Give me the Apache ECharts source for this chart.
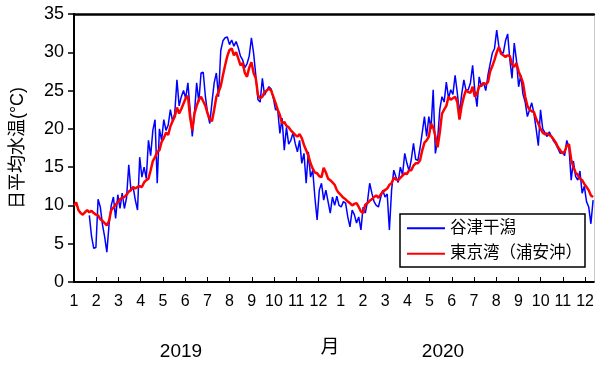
<!DOCTYPE html>
<html>
<head>
<meta charset="utf-8">
<script src="https://cdn.jsdelivr.net/npm/echarts@6/dist/echarts.min.js"></script>
<style>
  html, body { margin: 0; padding: 0; background: #fff; }
  #chart { width: 597px; height: 365px; }
</style>
</head>
<body>
<div id="chart"></div>
<script>
// Daily mean water temperature, sampled every 3 days from 1 Jan 2019.
const STEP_DAYS = 3;
const DAYS_PER_MONTH = 365.25 / 12;

// Month tick labels, Jan 2019 .. Dec 2020
const monthTicks = ['1','2','3','4','5','6','7','8','9','10','11','12',
                    '1','2','3','4','5','6','7','8','9','10','11','12'];
const yearLabels = ['2019', '2020'];
const seriesNames = ['谷津干潟', '東京湾（浦安沖）'];

// 谷津干潟 (°C)
const yatsuHigata = [
  null, null, null, null, null, null, null, 8.7, 6.0, 4.4,
  4.5, 10.8, 9.8, 7.5, 5.9, 3.9, 7.5, 10.0, 11.1, 8.3,
  11.4, 9.6, 11.6, 9.6, 11.0, 15.3, 12.0, 12.4, 10.7, 9.4,
  16.3, 13.7, 15.0, 13.5, 18.5, 16.5, 19.8, 21.2, 12.9, 20.0,
  18.5, 21.2, 19.8, 20.5, 22.5, 21.0, 22.0, 26.4, 23.0, 24.2,
  25.0, 24.0, 26.0, 22.5, 19.0, 22.1, 26.0, 23.5, 27.3, 27.4,
  24.2, 22.0, 20.7, 23.5, 26.0, 27.3, 24.2, 30.2, 31.5, 31.9,
  32.0, 31.0, 31.6, 30.8, 31.4, 30.6, 29.5, 29.0, 28.0, 28.5,
  29.5, 31.9, 29.9, 27.0, 23.8, 23.5, 26.6, 24.4, 25.0, 25.5,
  25.2, 24.0, 22.5, 22.5, 19.4, 21.4, 17.2, 20.2, 18.0, 18.5,
  19.5, 18.1, 17.0, 18.5, 15.5, 16.8, 12.9, 17.0, 13.7, 14.6,
  11.0, 8.1, 12.0, 12.9, 10.7, 12.0, 10.5, 9.0, 11.1, 10.0,
  11.2, 10.0, 9.8, 10.5, 10.3, 8.5, 7.2, 9.4, 8.8, 7.7,
  8.5, 6.8, 9.8, 9.0, 10.5, 12.9, 11.6, 10.5, 10.0, 9.8,
  11.0, 12.0, 11.1, 11.5, 6.8, 12.0, 14.6, 13.7, 13.0, 15.0,
  14.0, 16.8, 15.5, 14.5, 16.0, 18.1, 16.0, 15.9, 17.5, 19.5,
  21.6, 19.0, 21.6, 20.0, 25.1, 16.8, 18.5, 22.5, 24.2, 23.5,
  26.1, 24.0, 25.1, 24.5, 27.0, 24.7, 22.0, 24.5, 26.4, 25.0,
  25.1, 26.0, 28.3, 25.0, 22.9, 26.8, 25.5, 26.0, 25.0, 27.0,
  28.5, 29.9, 30.5, 32.9, 30.7, 30.0, 29.9, 31.5, 32.4, 29.0,
  26.6, 31.2, 29.0, 25.5, 27.0, 24.5, 23.5, 21.6, 22.5, 23.4,
  22.0, 20.0, 17.8, 22.5, 20.0, 19.5, 19.0, 19.6, 19.0, 18.4,
  18.0, 17.4, 16.8, 17.0, 16.5, 18.5, 17.5, 13.3, 15.8, 13.8,
  13.3, 14.5, 11.6, 12.5, 10.5, 9.8, 7.6, 10.7
];

// 東京湾（浦安沖） (°C)
const tokyoBay = [
  10.0, 10.4, 9.4, 9.0, 8.8, 9.1, 9.4, 9.1, 9.3, 9.0,
  8.8, 8.7, 8.2, 8.0, 7.7, 7.4, 8.0, 9.4, 9.7, 10.1,
  10.4, 10.8, 11.0, 11.1, 11.4, 11.8, 12.0, 12.4, 12.2, 12.4,
  12.5, 12.4, 13.0, 13.3, 13.5, 14.6, 15.8, 16.3, 17.0, 17.2,
  18.3, 18.8, 19.5, 19.2, 20.3, 21.0, 21.6, 22.8, 22.0, 22.6,
  23.3, 24.0, 24.3, 21.5, 19.8, 22.0, 23.0, 23.8, 24.2, 23.6,
  23.0, 22.0, 21.3, 21.0, 22.5, 24.2, 24.8, 25.6, 27.0, 28.3,
  29.5, 30.3, 30.5, 29.6, 30.0, 29.2, 28.3, 28.6, 27.3, 26.8,
  28.0, 28.7, 27.3, 26.6, 24.4, 24.0, 24.2, 24.8, 25.0, 25.3,
  25.0, 24.2, 23.4, 22.5, 21.8, 20.7, 20.9, 20.4, 20.2, 19.8,
  19.5, 19.2, 19.0, 19.3, 18.8, 17.9, 17.2, 16.5, 15.5, 14.8,
  14.3, 14.2, 13.8, 13.7, 14.9, 14.3, 13.5, 13.3, 13.0, 12.7,
  12.0, 11.6, 11.3, 11.0, 10.8, 10.5, 10.3, 10.0, 10.2, 10.3,
  9.8, 9.2, 9.0, 10.1, 10.3, 10.6, 10.8, 11.1, 11.3, 11.0,
  11.4, 11.8, 12.0, 12.2, 12.7, 12.9, 13.6, 13.4, 13.3, 13.6,
  13.9, 14.2, 14.1, 14.6, 14.6, 15.2, 15.5, 15.5, 15.9, 17.2,
  18.2, 18.5, 19.0, 20.7, 20.2, 19.0, 17.6, 19.5, 22.0, 22.5,
  23.0, 24.2, 23.8, 24.0, 24.2, 23.5, 21.2, 23.0, 24.2, 25.1,
  24.8, 24.7, 25.5, 24.2, 24.6, 25.5, 25.7, 26.0, 25.8, 26.1,
  27.5, 28.2, 29.0, 30.0, 30.7, 29.8, 29.6, 29.4, 29.6, 29.5,
  28.4, 28.1, 28.6, 27.5, 26.8, 26.0, 24.2, 23.0, 22.5, 22.3,
  22.2, 21.3, 20.7, 20.0, 19.5, 19.3, 19.4, 19.2, 19.0, 18.6,
  18.2, 17.6, 17.2, 16.8, 17.0, 17.8, 18.0, 16.0, 15.0, 14.3,
  14.0, 13.5, 13.3, 12.8, 12.4, 12.0, 11.3, 11.1
];

const FONT = "'Liberation Sans', 'Noto Sans CJK JP', sans-serif";
const lastDay = (tokyoBay.length - 1) * STEP_DAYS + 1;
// Plain horizontal bar used as the legend key
const LINE_ICON = 'path://M0,0 L40,0 L40,2 L0,2 Z';

function toPairs(values) {
  return values.map((v, i) => [i * STEP_DAYS, v]);
}

const monthPositions = monthTicks.map((_, k) => k * DAYS_PER_MONTH);

const chart = echarts.init(document.getElementById('chart'), null, { renderer: 'canvas' });

chart.setOption({
  animation: false,
  backgroundColor: '#fff',
  textStyle: { fontFamily: FONT, color: '#000' },
  grid: { left: 74, right: 1, top: 14, bottom: 83, containLabel: false },
  xAxis: [{
    type: 'value',
    min: 0,
    max: lastDay,
    name: '月',
    nameLocation: 'middle',
    nameGap: 56,
    nameTextStyle: { fontSize: 19, color: '#000', fontFamily: FONT, padding: [0, 8, 0, 0] },
    axisLine: { show: true, onZero: false, lineStyle: { color: '#000', width: 2 } },
    axisTick: { show: true, inside: true, length: 5, customValues: monthPositions,
                lineStyle: { color: '#000', width: 1 } },
    axisLabel: { show: true, customValues: monthPositions, margin: 12, fontSize: 16, color: '#000',
                 fontFamily: FONT,
                 formatter: (v) => monthTicks[Math.round(v / DAYS_PER_MONTH)] || '' },
    splitLine: { show: false }
  }, {
    type: 'value',
    position: 'top',
    min: 0,
    max: lastDay,
    axisLine: { show: true, onZero: false, lineStyle: { color: '#000', width: 2.5 } },
    axisTick: { show: false },
    axisLabel: { show: false },
    splitLine: { show: false }
  }],
  yAxis: [{
    type: 'value',
    min: 0,
    max: 35,
    interval: 5,
    name: '日平均水温(°C)',
    nameLocation: 'middle',
    nameRotate: 90,
    nameGap: 47,
    nameTextStyle: { fontSize: 18, color: '#000', fontFamily: FONT },
    axisLine: { show: true, onZero: false, lineStyle: { color: '#000', width: 2 } },
    axisTick: { show: true, inside: false, length: 6, lineStyle: { color: '#000', width: 1.5 } },
    axisLabel: { margin: 10, fontSize: 18, color: '#000', fontFamily: FONT },
    splitLine: { show: false }
  }, {
    type: 'value',
    position: 'right',
    min: 0,
    max: 35,
    axisLine: { show: true, onZero: false, lineStyle: { color: '#c8c8c8', width: 1 } },
    axisTick: { show: false },
    axisLabel: { show: false },
    splitLine: { show: false }
  }],
  legend: {
    left: 400,
    top: 214,
    orient: 'vertical',
    icon: LINE_ICON,
    itemWidth: 38,
    itemHeight: 2,
    itemGap: 9,
    padding: [6, 3, 5, 7],
    borderColor: '#000',
    borderWidth: 1.5,
    borderRadius: 0,
    backgroundColor: '#fff',
    textStyle: { fontSize: 16.5, color: '#000', fontFamily: FONT },
    data: seriesNames
  },
  graphic: yearLabels.map((t, k) => ({
    type: 'text',
    x: k === 0 ? 181 : 443,
    y: 352,
    style: { text: t, font: '19px ' + FONT, fill: '#000', align: 'center', verticalAlign: 'middle' }
  })),
  series: [{
    name: seriesNames[0],
    type: 'line',
    data: toPairs(yatsuHigata),
    symbol: 'none',
    connectNulls: false,
    lineStyle: { color: '#0000ff', width: 1.5 },
    itemStyle: { color: '#0000ff' },
    z: 2
  }, {
    name: seriesNames[1],
    type: 'line',
    data: toPairs(tokyoBay),
    symbol: 'none',
    lineStyle: { color: '#ff0000', width: 2.5 },
    itemStyle: { color: '#ff0000' },
    z: 3
  }]
});
</script>
</body>
</html>
